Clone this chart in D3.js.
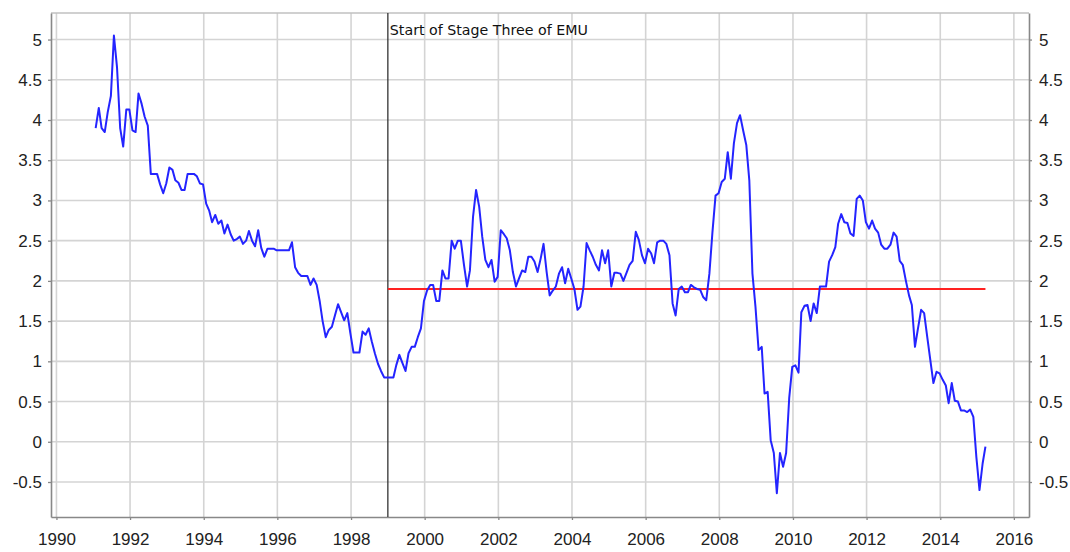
<!DOCTYPE html>
<html>
<head>
<meta charset="utf-8">
<script src="https://cdn.jsdelivr.net/npm/d3@7"></script>
<style>
	body { margin: 0; background: #fff; }
	svg { display: block; font-family: 'Liberation Sans', Arial, sans-serif; }
</style>
</head>
<body>
<svg id="chart" width="1070" height="552"></svg>
<script>
// monthly annual inflation rate, Jan 1991 .. Mar 2015
const firstYear = 1991;
const hicp = [
	3.9, 4.15, 3.9, 3.85, 4.1, 4.3, 5.05, 4.65, 3.9, 3.67, 4.13, 4.13,         // 1991
	3.87, 3.85, 4.33, 4.2, 4.04, 3.93, 3.33, 3.33, 3.33, 3.2, 3.09, 3.21,      // 1992
	3.41, 3.38, 3.25, 3.22, 3.13, 3.13, 3.33, 3.33, 3.33, 3.3, 3.21, 3.2,      // 1993
	2.96, 2.87, 2.73, 2.82, 2.71, 2.75, 2.59, 2.7, 2.58, 2.5, 2.52, 2.55,      // 1994
	2.46, 2.5, 2.62, 2.5, 2.43, 2.63, 2.41, 2.3, 2.4, 2.4, 2.4, 2.38,          // 1995
	2.38, 2.38, 2.38, 2.38, 2.48, 2.17, 2.1, 2.06, 2.06, 2.06, 1.95, 2.03,     // 1996
	1.95, 1.74, 1.5, 1.3, 1.39, 1.43, 1.57, 1.71, 1.61, 1.51, 1.6, 1.35,       // 1997
	1.11, 1.11, 1.11, 1.37, 1.33, 1.41, 1.25, 1.1, 0.97, 0.88, 0.8, 0.8,       // 1998
	0.8, 0.8, 0.95, 1.08, 0.98, 0.88, 1.1, 1.18, 1.18, 1.3, 1.41, 1.75,        // 1999
	1.88, 1.95, 1.95, 1.75, 1.75, 2.13, 2.03, 2.03, 2.5, 2.4, 2.5, 2.5,        // 2000
	2.2, 1.93, 2.13, 2.8, 3.13, 2.92, 2.55, 2.26, 2.17, 2.26, 1.99, 2.05,      // 2001
	2.63, 2.58, 2.53, 2.38, 2.11, 1.93, 2.03, 2.13, 2.11, 2.3, 2.3, 2.24,      // 2002
	2.11, 2.28, 2.46, 2.11, 1.82, 1.88, 1.93, 2.09, 2.17, 1.97, 2.15, 2.03,    // 2003
	1.9, 1.64, 1.68, 1.93, 2.47, 2.38, 2.3, 2.2, 2.13, 2.38, 2.22, 2.38,       // 2004
	1.93, 2.1, 2.1, 2.09, 2.0, 2.1, 2.2, 2.25, 2.61, 2.51, 2.32, 2.22,         // 2005
	2.4, 2.34, 2.22, 2.48, 2.5, 2.5, 2.46, 2.32, 1.72, 1.57, 1.9, 1.93,        // 2006
	1.86, 1.86, 1.95, 1.92, 1.9, 1.89, 1.8, 1.76, 2.09, 2.6, 3.06, 3.09,       // 2007
	3.23, 3.27, 3.6, 3.27, 3.71, 3.96, 4.06, 3.87, 3.69, 3.25, 2.09, 1.68,     // 2008
	1.14, 1.18, 0.6, 0.62, 0.02, -0.14, -0.64, -0.14, -0.31, -0.14, 0.55, 0.93, // 2009
	0.95, 0.86, 1.61, 1.69, 1.7, 1.5, 1.72, 1.6, 1.93, 1.93, 1.93, 2.24,       // 2010
	2.32, 2.42, 2.71, 2.83, 2.73, 2.72, 2.59, 2.56, 3.02, 3.06, 3.0, 2.73,     // 2011
	2.65, 2.75, 2.65, 2.6, 2.45, 2.4, 2.4, 2.45, 2.6, 2.55, 2.25, 2.2,         // 2012
	2.0, 1.82, 1.7, 1.18, 1.41, 1.64, 1.6, 1.3, 1.01, 0.73, 0.87, 0.85,        // 2013
	0.77, 0.7, 0.48, 0.73, 0.51, 0.5, 0.39, 0.39, 0.37, 0.4, 0.31, -0.19,      // 2014
	-0.6, -0.27, -0.06                                                        // 2015
];

const xTickYears = [1990, 1992, 1994, 1996, 1998, 2000, 2002, 2004, 2006, 2008, 2010, 2012, 2014, 2016];
const yTickValues = [-0.5, 0, 0.5, 1, 1.5, 2, 2.5, 3, 3.5, 4, 4.5, 5];
const targetRate = 1.9;
const emuYear = 1999;
const emuLabel = 'Start of Stage Three of EMU';

const plot = { left: 51, right: 1029, top: 13, bottom: 517 };
const colors = {
	grid: '#d4d4d4',
	axis: '#888',
	text: '#222',
	series: '#2424ff',
	target: '#ff2222',
	marker: '#333',
};

const data = hicp.map((v, i) => ({
	date: new Date(firstYear, i, 25),
	value: v,
}));

const x = d3.scaleTime()
	.domain([new Date(1989, 10, 8), new Date(2016, 4, 30)])
	.range([plot.left, plot.right]);
const y = d3.scaleLinear()
	.domain([-0.935, 5.33])
	.range([plot.bottom, plot.top]);

const svg = d3.select('#chart');
const tickDates = xTickYears.map(yr => new Date(yr, 0, 1));

// grid
svg.append('g').selectAll('line')
	.data(tickDates)
	.join('line')
	.attr('x1', d => x(d)).attr('x2', d => x(d))
	.attr('y1', plot.top).attr('y2', plot.bottom)
	.attr('stroke', colors.grid)
	.attr('stroke-width', 1.6);
svg.append('g').selectAll('line')
	.data(yTickValues)
	.join('line')
	.attr('x1', plot.left).attr('x2', plot.right)
	.attr('y1', d => y(d)).attr('y2', d => y(d))
	.attr('stroke', colors.grid)
	.attr('stroke-width', 1.6);

// top border
svg.append('line')
	.attr('x1', plot.left).attr('x2', plot.right)
	.attr('y1', plot.top).attr('y2', plot.top)
	.attr('stroke', '#c0c0c0')
	.attr('stroke-width', 1.5);

function styleAxis(g) {
	g.select('.domain').attr('stroke', colors.axis).attr('stroke-width', 1.6);
	g.selectAll('.tick line').attr('stroke', colors.axis).attr('stroke-width', 1.3);
	g.selectAll('.tick text')
		.attr('fill', colors.text)
		.style('font-size', '17px')
		.style('font-family', "'Liberation Sans', Arial, sans-serif");
}

const fmtY = d => String(d);

svg.append('g')
	.attr('transform', `translate(0,${plot.bottom})`)
	.call(d3.axisBottom(x).tickValues(tickDates).tickFormat(d3.timeFormat('%Y'))
		.tickSize(3).tickSizeOuter(0).tickPadding(13))
	.call(styleAxis);

svg.append('g')
	.attr('transform', `translate(${plot.left},0)`)
	.call(d3.axisLeft(y).tickValues(yTickValues).tickFormat(fmtY)
		.tickSize(3).tickSizeOuter(0).tickPadding(6))
	.call(styleAxis);

svg.append('g')
	.attr('transform', `translate(${plot.right},0)`)
	.call(d3.axisRight(y).tickValues(yTickValues).tickFormat(fmtY)
		.tickSize(3).tickSizeOuter(0).tickPadding(7))
	.call(styleAxis);

// EMU marker
const emuX = x(new Date(emuYear, 0, 1));
svg.append('line')
	.attr('x1', emuX).attr('x2', emuX)
	.attr('y1', plot.top).attr('y2', plot.bottom)
	.attr('stroke', colors.marker)
	.attr('stroke-width', 1.3);
svg.append('text')
	.attr('x', emuX + 2)
	.attr('y', 35)
	.attr('fill', '#111')
	.attr('textLength', 198)
	.attr('lengthAdjust', 'spacingAndGlyphs')
	.style('font-family', "'DejaVu Sans Condensed', 'DejaVu Sans', sans-serif")
	.style('font-size', '14px')
	.text(emuLabel);

// target level since EMU start
svg.append('line')
	.attr('x1', emuX)
	.attr('x2', x(data[data.length - 1].date))
	.attr('y1', y(targetRate)).attr('y2', y(targetRate))
	.attr('stroke', colors.target)
	.attr('stroke-width', 2);

// series
const line = d3.line()
	.x(d => x(d.date))
	.y(d => y(d.value));
svg.append('path')
	.datum(data)
	.attr('d', line)
	.attr('fill', 'none')
	.attr('stroke', colors.series)
	.attr('stroke-width', 2)
	.attr('stroke-linejoin', 'round');
</script>
</body>
</html>
